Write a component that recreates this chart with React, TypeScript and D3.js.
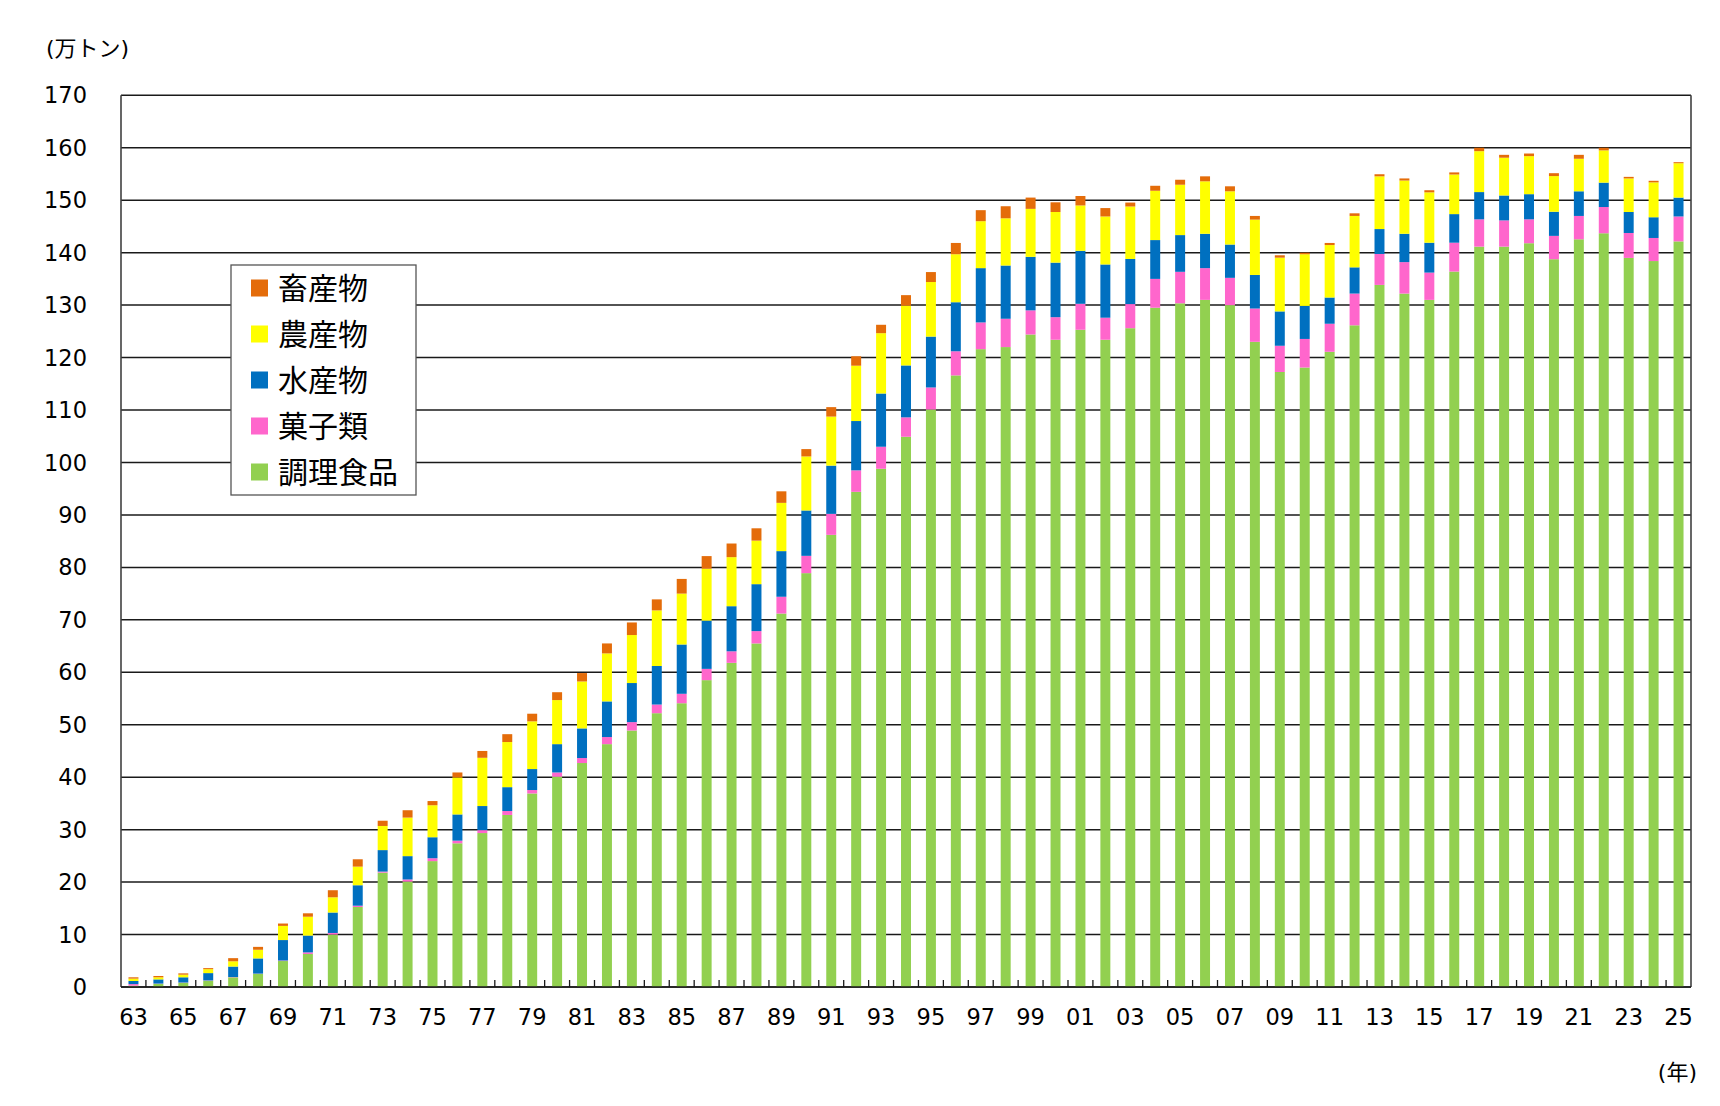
import * as d3 from "d3";

// 年 (1963-2025)
const years = [
  "1963", "1964", "1965", "1966", "1967", "1968", "1969", "1970", "1971", "1972",
  "1973", "1974", "1975", "1976", "1977", "1978", "1979", "1980", "1981", "1982",
  "1983", "1984", "1985", "1986", "1987", "1988", "1989", "1990", "1991", "1992",
  "1993", "1994", "1995", "1996", "1997", "1998", "1999", "2000", "2001", "2002",
  "2003", "2004", "2005", "2006", "2007", "2008", "2009", "2010", "2011", "2012",
  "2013", "2014", "2015", "2016", "2017", "2018", "2019", "2020", "2021", "2022",
  "2023", "2024", "2025",
];

// 万トン
const prepared = [
  0.25, 0.6, 0.8, 1.2, 1.85, 2.5, 4.95, 6.3, 10.0, 15.25,
  21.8, 20.1, 24.0, 27.4, 29.35, 32.8, 36.9, 40.1, 42.7, 46.3,
  48.9, 52.2, 54.1, 58.5, 61.8, 65.5, 71.2, 78.9, 86.2, 94.4,
  98.8, 104.9, 110.1, 116.6, 121.6, 122.0, 124.4, 123.4, 125.3, 123.4,
  125.6, 129.5, 130.35, 131.0, 130.0, 123.0, 117.25, 118.1, 121.1, 126.15,
  133.85, 132.2, 131.0, 136.4, 141.15, 141.15, 141.8, 138.75, 142.55, 143.7,
  139.0, 138.4, 142.15,
];
const sweets = [
  0.3, 0.05, 0.05, 0.05, 0.05, 0.05, 0.1, 0.3, 0.3, 0.25,
  0.2, 0.4, 0.55, 0.5, 0.55, 0.75, 0.65, 0.8, 0.95, 1.35,
  1.6, 1.65, 1.8, 2.15, 2.2, 2.35, 3.2, 3.3, 4.0, 4.1,
  4.2, 3.7, 4.2, 4.6, 5.1, 5.4, 4.6, 4.3, 4.95, 4.2,
  4.6, 5.5, 6.0, 6.05, 5.2, 6.35, 5.0, 5.45, 5.35, 6.05,
  5.9, 6.0, 5.2, 5.5, 5.2, 5.0, 4.55, 4.45, 4.45, 5.0,
  4.75, 4.4, 4.75,
];
const seafood = [
  0.6, 0.8, 1.0, 1.4, 2.0, 2.9, 3.9, 3.2, 3.9, 3.9,
  4.1, 4.45, 4.0, 5.0, 4.6, 4.55, 4.0, 5.4, 5.65, 6.8,
  7.45, 7.35, 9.4, 9.2, 8.6, 8.95, 8.7, 8.65, 9.2, 9.4,
  10.15, 9.9, 9.7, 9.35, 10.35, 10.15, 10.2, 10.4, 10.1, 10.15,
  8.6, 7.4, 7.0, 6.55, 6.35, 6.4, 6.55, 6.3, 5.0, 5.0,
  4.75, 5.4, 5.7, 5.45, 5.2, 4.75, 4.8, 4.6, 4.7, 4.65,
  4.0, 3.95, 3.6,
];
const farm = [
  0.45, 0.4, 0.5, 0.75, 1.0, 1.65, 2.7, 3.6, 2.9, 3.55,
  4.6, 7.35, 6.1, 7.05, 9.2, 8.6, 9.1, 8.4, 8.95, 9.15,
  9.15, 10.6, 9.7, 9.9, 9.35, 8.3, 9.2, 10.3, 9.35, 10.55,
  11.5, 11.4, 10.4, 9.15, 8.95, 9.0, 9.15, 9.65, 8.65, 9.15,
  10.0, 9.4, 9.6, 10.0, 10.15, 10.55, 10.25, 9.85, 10.0, 9.8,
  10.05, 10.15, 9.6, 7.55, 7.8, 7.2, 7.25, 6.8, 6.2, 6.15,
  6.4, 6.65, 6.55,
];
const livestock = [
  0.25, 0.25, 0.25, 0.2, 0.6, 0.55, 0.45, 0.65, 1.35, 1.4,
  1.0, 1.4, 0.8, 0.95, 1.3, 1.5, 1.45, 1.5, 1.6, 1.9,
  2.4, 2.1, 2.8, 2.4, 2.6, 2.35, 2.2, 1.4, 1.8, 1.8,
  1.6, 2.0, 1.9, 2.15, 2.1, 2.3, 2.15, 1.85, 1.8, 1.6,
  0.75, 0.95, 0.95, 0.95, 0.95, 0.7, 0.45, 0.3, 0.4, 0.5,
  0.4, 0.4, 0.4, 0.4, 0.65, 0.55, 0.5, 0.55, 0.75, 0.5,
  0.3, 0.3, 0.2,
];

const yTicks = [0, 10, 20, 30, 40, 50, 60, 70, 80, 90, 100, 110, 120, 130, 140, 150, 160, 170];

// stacking order bottom -> top
const series = [
  { key: "prepared", label: "調理食品", color: "#92D050", values: prepared },
  { key: "sweets", label: "菓子類", color: "#FF66CC", values: sweets },
  { key: "seafood", label: "水産物", color: "#0070C0", values: seafood },
  { key: "farm", label: "農産物", color: "#FFFF00", values: farm },
  { key: "livestock", label: "畜産物", color: "#E46C0A", values: livestock },
];

const W = 1720;
const H = 1106;
const left = 121;
const right = 1691;
const top = 95.3;
const bottom = 987;

const NUM_FONT = "'DejaVu Sans', Verdana, 'Noto Sans CJK JP', sans-serif";
const JP_FONT = "'Noto Sans CJK JP', 'DejaVu Sans', sans-serif";

export default function App() {
  const rows = years.map((y, i) => {
    const r: Record<string, any> = { year: y };
    series.forEach((s) => (r[s.key] = s.values[i]));
    return r;
  });
  const stacked = d3.stack().keys(series.map((s) => s.key))(rows as any);

  const slot = d3.scaleBand<string>().domain(years).range([left, right]).padding(0);
  const barW = slot.bandwidth() * 0.4;
  const y = d3.scaleLinear().domain([0, 170]).range([bottom, top]);

  const legendItems = [...series].reverse();

  return (
    <div style={{ position: "absolute", left: 0, top: 0 }}>
      <svg width={W} height={H} style={{ display: "block", background: "#fff" }}>
        <rect x={0} y={0} width={W} height={H} fill="#fff" />

        {/* gridlines */}
        {yTicks.map((t) => (
          <line key={t} x1={left} x2={right} y1={y(t)} y2={y(t)} stroke="#1a1a1a" strokeWidth={1.5} />
        ))}
        <line x1={left} x2={left} y1={top} y2={bottom} stroke="#404040" strokeWidth={1.6} />
        <line x1={right} x2={right} y1={top} y2={bottom} stroke="#404040" strokeWidth={1.6} />

        {/* bars */}
        {stacked.map((layer, li) => (
          <g key={series[li].key} fill={series[li].color}>
            {layer.map((d, i) => {
              const y0 = y(d[0]);
              const y1 = y(d[1]);
              return (
                <rect
                  key={years[i]}
                  x={(slot(years[i]) as number) + (slot.bandwidth() - barW) / 2}
                  y={y1}
                  width={barW}
                  height={Math.max(0, y0 - y1)}
                />
              );
            })}
          </g>
        ))}

        {/* x axis */}
        <line x1={left} x2={right} y1={bottom} y2={bottom} stroke="#1a1a1a" strokeWidth={1.6} />
        {years.slice(1).map((yr) => (
          <line
            key={yr}
            x1={slot(yr)}
            x2={slot(yr)}
            y1={bottom}
            y2={bottom - 7}
            stroke="#1a1a1a"
            strokeWidth={1.3}
          />
        ))}
        {years.map((yr, i) =>
          i % 2 === 0 ? (
            <text
              key={yr}
              x={(slot(yr) as number) + slot.bandwidth() / 2}
              y={1017}
              dy="0.36em"
              textAnchor="middle"
              fontFamily={NUM_FONT}
              fontSize={22.5}
              fill="#000"
            >
              {yr.slice(2)}
            </text>
          ) : null
        )}

        {/* y labels */}
        {yTicks.map((t) => (
          <text
            key={t}
            x={87}
            y={y(t)}
            dy="0.36em"
            textAnchor="end"
            fontFamily={NUM_FONT}
            fontSize={22.5}
            fill="#000"
          >
            {t}
          </text>
        ))}

        <text x={46} y={48} dy="0.36em" fontFamily={NUM_FONT} fontSize={22} fill="#000">
          (万トン)
        </text>
        <text x={1697} y={1072} dy="0.36em" textAnchor="end" fontFamily={NUM_FONT} fontSize={22} fill="#000">
          (年)
        </text>

        {/* legend */}
        <g>
          <rect x={231} y={265} width={185} height={230} fill="#fff" stroke="#555" strokeWidth={1.3} />
          {legendItems.map((s, i) => {
            const cy = 288 + i * 46;
            return (
              <g key={s.key}>
                <rect x={251} y={cy - 8.5} width={17} height={17} fill={s.color} />
                <text x={278} y={cy} dy="0.36em" fontFamily={JP_FONT} fontSize={30} fill="#000">
                  {s.label}
                </text>
              </g>
            );
          })}
        </g>
      </svg>
    </div>
  );
}
